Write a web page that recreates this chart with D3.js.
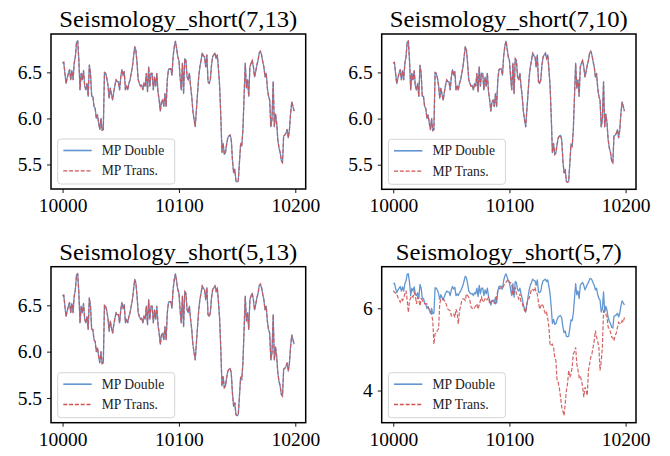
<!DOCTYPE html>
<html>
<head>
<meta charset="utf-8">
<script src="https://cdn.jsdelivr.net/npm/d3@7"></script>
<style>
  body { margin: 0; background: #fff; }
  svg { display: block; font-family: "Liberation Serif", "DejaVu Serif", serif; }
</style>
</head>
<body>
<svg id="chart" width="670" height="456"></svg>
<script>
// time index
const timeSteps = d3.range(10000, 10200);

// MP Double (same profile in every panel)
const seismoDouble = [
  6.60, 6.61, 6.49, 6.38, 6.44, 6.49, 6.53, 6.42, 6.52, 6.42,
  6.60, 6.67, 6.83, 6.84, 6.63, 6.31, 6.49, 6.42, 6.52, 6.35,
  6.31, 6.38, 6.24, 6.58, 6.49, 6.24, 6.24, 6.13, 6.11, 6.00,
  6.04, 5.95, 5.88, 6.00, 5.87, 5.88, 6.50, 6.49, 6.44, 6.36,
  6.22, 6.33, 6.26, 6.20, 6.29, 6.36, 6.42, 6.40, 6.40, 6.31,
  6.45, 6.53, 6.47, 6.51, 6.31, 6.35, 6.31, 6.38, 6.42, 6.49,
  6.56, 6.67, 6.78, 6.74, 6.60, 6.42, 6.38, 6.35, 6.36, 6.31,
  6.38, 6.35, 6.49, 6.29, 6.56, 6.35, 6.49, 6.49, 6.31, 6.45,
  6.35, 6.49, 6.29, 6.20, 6.08, 6.18, 6.20, 6.13, 6.27, 6.13,
  6.42, 6.53, 6.54, 6.54, 6.47, 6.67, 6.78, 6.84, 6.76, 6.67,
  6.63, 6.45, 6.31, 6.60, 6.27, 6.65, 6.63, 6.45, 6.42, 6.49,
  6.35, 6.24, 6.08, 5.99, 5.91, 6.09, 6.27, 6.45, 6.56, 6.63,
  6.71, 6.68, 6.67, 6.56, 6.69, 6.40, 6.38, 6.42, 6.58, 6.67,
  6.69, 6.71, 6.65, 6.69, 6.53, 6.35, 6.02, 5.63, 5.73, 5.61,
  5.63, 5.72, 5.79, 5.81, 5.82, 5.77, 5.55, 5.41, 5.45, 5.32,
  5.31, 5.32, 5.52, 5.72, 5.70, 5.88, 6.24, 6.60, 6.33, 6.42,
  6.24, 6.56, 6.60, 6.63, 6.56, 6.45, 6.51, 6.58, 6.63, 6.71,
  6.73, 6.69, 6.62, 6.56, 6.45, 6.49, 6.33, 6.24, 6.20, 5.91,
  5.99, 6.40, 5.91, 6.05, 5.95, 5.77, 5.68, 5.63, 5.54, 5.52,
  5.81, 5.82, 5.84, 5.88, 5.79, 5.88, 6.06, 6.18, 6.13, 6.08
];

// MP Trans. for (5,7), the only panel where it drifts away
const seismoTrans57 = [
  6.43, 6.39, 6.37, 6.35, 6.27, 6.21, 6.15, 6.23, 6.19, 6.25,
  6.35, 6.43, 6.20, 5.90, 6.19, 6.25, 6.31, 6.27, 6.39, 6.30,
  6.11, 6.27, 6.20, 6.06, 6.23, 6.20, 6.15, 6.11, 6.11, 6.11,
  6.02, 5.98, 5.96, 5.86, 5.70, 5.13, 5.38, 5.40, 5.46, 5.50,
  6.11, 6.23, 6.23, 6.23, 6.19, 6.15, 6.06, 5.98, 5.96, 5.94,
  5.82, 5.86, 5.86, 5.78, 5.98, 5.90, 5.62, 5.94, 6.05, 6.19,
  6.23, 6.23, 6.19, 6.35, 6.31, 6.27, 6.19, 6.02, 6.00, 5.98,
  6.02, 6.06, 6.11, 5.98, 6.08, 6.19, 6.27, 6.15, 6.18, 6.23,
  6.19, 6.22, 6.27, 6.11, 6.15, 6.19, 6.15, 6.13, 6.11, 6.27,
  6.43, 6.45, 6.51, 6.47, 6.50, 6.55, 6.59, 6.63, 6.67, 6.71,
  6.63, 6.62, 6.59, 6.31, 6.40, 6.51, 6.35, 6.30, 6.23, 6.35,
  6.15, 6.12, 6.02, 5.95, 5.90, 6.11, 6.19, 6.25, 6.35, 6.47,
  6.45, 6.43, 6.51, 6.39, 6.35, 6.15, 5.98, 6.05, 6.11, 6.06,
  5.95, 5.86, 5.90, 5.75, 5.54, 5.09, 5.11, 5.13, 5.05, 4.80,
  4.73, 4.24, 4.20, 4.05, 3.84, 3.60, 3.50, 3.39, 3.68, 4.00,
  4.16, 4.49, 4.32, 4.40, 4.57, 4.89, 4.95, 5.05, 4.65, 4.50,
  4.32, 4.36, 4.24, 4.10, 3.84, 4.08, 4.00, 3.88, 4.49, 4.65,
  4.81, 4.89, 5.05, 5.21, 5.46, 5.30, 5.20, 5.05, 4.49, 4.70,
  5.05, 5.94, 5.90, 5.86, 5.78, 5.54, 5.50, 5.42, 5.30, 5.28,
  5.21, 5.34, 5.40, 5.54, 5.66, 5.64, 5.62, 5.70, 5.66, 5.78
];

const panelTitles = ['Seismology_short(7,13)', 'Seismology_short(7,10)',
                     'Seismology_short(5,13)', 'Seismology_short(5,7)'];
const transSeries = [seismoDouble, seismoDouble, seismoDouble, seismoTrans57];
const xTicks = [10000, 10100, 10200];
const yTicksNear = [5.5, 6.0, 6.5];
const yTicksWide = [4, 6];
const panelYTicks = [yTicksNear, yTicksNear, yTicksNear, yTicksWide];
const legendLabels = ['MP Double', 'MP Trans.'];

// layout
const boxes = [
  { x0: 51, x1: 305.7, y0: 34, y1: 189, titleW: 238 },
  { x0: 381.7, x1: 636, y0: 34, y1: 189.3, titleW: 238 },
  { x0: 51, x1: 305.7, y0: 266.7, y1: 422.7, titleW: 238 },
  { x0: 381.7, x1: 636, y0: 266.7, y1: 422.7, titleW: 226 }
];
const blue = '#6196d0';
const red = '#cf5353';
const tickFont = '19.5px';

const svg = d3.select('#chart');

boxes.forEach((b, k) => {
  const g = svg.append('g');
  const dbl = seismoDouble;
  const trn = transSeries[k];

  const xPad = (timeSteps[timeSteps.length - 1] - timeSteps[0]) * 0.05;
  const x = d3.scaleLinear()
    .domain([timeSteps[0] - xPad, timeSteps[timeSteps.length - 1] + xPad])
    .range([b.x0, b.x1]);

  const lo = Math.min(d3.min(dbl), d3.min(trn));
  const hi = Math.max(d3.max(dbl), d3.max(trn));
  const yPad = (hi - lo) * 0.05;
  const y = d3.scaleLinear()
    .domain([lo - yPad, hi + yPad])
    .range([b.y1, b.y0]);

  const line = d3.line()
    .x((d, i) => x(timeSteps[i]))
    .y(d => y(d));

  const clipId = 'clip' + k;
  g.append('clipPath').attr('id', clipId)
    .append('rect')
    .attr('x', b.x0).attr('y', b.y0)
    .attr('width', b.x1 - b.x0).attr('height', b.y1 - b.y0);

  // lines
  g.append('path')
    .datum(dbl)
    .attr('clip-path', `url(#${clipId})`)
    .attr('d', line)
    .attr('fill', 'none')
    .attr('stroke', blue)
    .attr('stroke-width', 1.3)
    .attr('stroke-linejoin', 'round');

  g.append('path')
    .datum(trn)
    .attr('clip-path', `url(#${clipId})`)
    .attr('d', line)
    .attr('fill', 'none')
    .attr('stroke', red)
    .attr('stroke-opacity', 0.9)
    .attr('stroke-width', 1.2)
    .attr('stroke-dasharray', '4,1.8');

  // x axis
  const xAxis = g.append('g')
    .attr('transform', `translate(0,${b.y1})`)
    .call(d3.axisBottom(x).tickValues(xTicks).tickSize(4).tickPadding(5).tickFormat(d3.format('d')));
  xAxis.select('.domain').remove();
  xAxis.selectAll('line').attr('stroke', '#000').attr('stroke-width', 0.9);
  xAxis.selectAll('text')
    .attr('fill', '#000')
    .style('font-size', tickFont)
    .style('font-family', '"Liberation Serif", serif');

  // y axis
  const yFmt = k === 3 ? d3.format('d') : d3.format('.1f');
  const yAxis = g.append('g')
    .attr('transform', `translate(${b.x0},0)`)
    .call(d3.axisLeft(y).tickValues(panelYTicks[k]).tickSize(4).tickPadding(5).tickFormat(yFmt));
  yAxis.select('.domain').remove();
  yAxis.selectAll('line').attr('stroke', '#000').attr('stroke-width', 0.9);
  yAxis.selectAll('text')
    .attr('fill', '#000')
    .style('font-size', tickFont)
    .style('font-family', '"Liberation Serif", serif');

  // legend
  const lg = g.append('g').attr('transform', `translate(${b.x0 + 6.7},${b.y1 - 50})`);
  lg.append('rect')
    .attr('width', 117).attr('height', 45)
    .attr('rx', 3)
    .attr('fill', '#fff').attr('fill-opacity', 0.8)
    .attr('stroke', '#d5d5d5').attr('stroke-width', 1);
  legendLabels.forEach((lab, i) => {
    const yy = 11.5 + i * 20.3;
    lg.append('line')
      .attr('x1', 5.6).attr('x2', 34)
      .attr('y1', yy).attr('y2', yy)
      .attr('stroke', i === 0 ? blue : red)
      .attr('stroke-width', i === 0 ? 1.6 : 1.3)
      .attr('stroke-dasharray', i === 0 ? null : '4,1.8');
    lg.append('text')
      .attr('x', 44).attr('y', yy + 4.6)
      .style('font-size', '13.6px')
      .attr('fill', '#222')
      .text(lab);
  });

  // frame
  g.append('rect')
    .attr('x', b.x0).attr('y', b.y0)
    .attr('width', b.x1 - b.x0).attr('height', b.y1 - b.y0)
    .attr('fill', 'none')
    .attr('stroke', '#000')
    .attr('stroke-width', 1.5);

  // title
  g.append('text')
    .attr('x', (b.x0 + b.x1) / 2)
    .attr('y', b.y0 - 7)
    .attr('text-anchor', 'middle')
    .attr('textLength', b.titleW)
    .attr('lengthAdjust', 'spacingAndGlyphs')
    .style('font-size', '23px')
    .attr('fill', '#000')
    .text(panelTitles[k]);
});
</script>
</body>
</html>
